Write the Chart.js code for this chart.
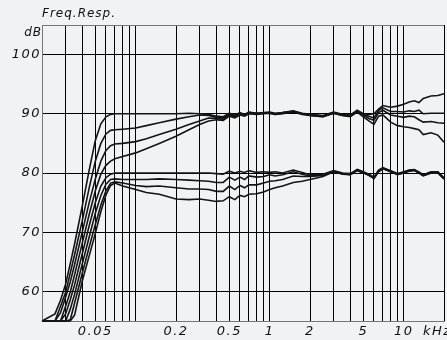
<!DOCTYPE html>
<html>
<head>
<meta charset="utf-8">
<script src="https://cdn.jsdelivr.net/npm/chart.js@4/dist/chart.umd.min.js"></script>
<style>
  html, body { margin: 0; padding: 0; background: #f1f2f4; }
  #wrap { width: 447px; height: 340px; }
</style>
</head>
<body>
<div id="wrap"><canvas id="fr" width="447" height="340"></canvas></div>
<script>
// Frequency points (kHz) shared by all response curves
const freqKHz = [0.02, 0.025, 0.0275, 0.03, 0.0325, 0.035, 0.04, 0.045, 0.05, 0.055, 0.06, 0.065,
  0.07, 0.08, 0.1, 0.12, 0.15, 0.2, 0.25, 0.3, 0.35, 0.4,
  0.45, 0.5, 0.55, 0.6, 0.65, 0.7, 0.8, 0.9, 1, 1.1,
  1.25, 1.5, 1.75, 2, 2.5, 3, 3.5, 4, 4.5, 5,
  5.5, 6, 6.5, 7, 8, 9, 10, 11, 12, 13,
  14, 16, 18, 20];

// Level (dB) of each measurement, upper group around 90 dB
const respA = [55, 56.2, 58.5, 61.2, 64.7, 68, 74.5, 80.5, 85.5, 88.3, 89.5, 89.9,
  90.0, 90.0, 90.0, 90.0, 90.0, 90.0, 90.1, 90.0, 89.9, 89.6,
  89.5, 90.1, 89.8, 90.2, 89.9, 90.3, 90.1, 90.2, 90.3, 90.1,
  90.2, 90.5, 90.1, 89.9, 89.7, 90.3, 89.9, 89.8, 90.6, 90.0,
  89.9, 90.0, 90.8, 91.4, 91.1, 91.3, 91.6, 92.0, 92.2, 91.9,
  92.6, 93.0, 93.1, 93.4];
const respB = [55, 55, 57.5, 59.8, 63.1, 66.2, 72.0, 77.5, 82.0, 85.0, 86.6, 87.2,
  87.3, 87.4, 87.6, 88.0, 88.5, 89.1, 89.5, 89.8, 89.7, 89.4,
  89.3, 90.0, 89.6, 90.1, 89.8, 90.2, 90.1, 90.1, 90.2, 90.0,
  90.2, 90.4, 90.0, 89.8, 89.6, 90.2, 89.8, 89.7, 90.5, 89.9,
  89.6, 89.3, 90.6, 91.0, 90.4, 90.4, 90.3, 90.5, 90.4, 90.6,
  90.0, 90.1, 90.1, 90.1];
const respC = [55, 55, 56.4, 59.0, 61.6, 64.5, 70.1, 75.0, 79.0, 82.0, 83.8, 84.6,
  84.9, 85.0, 85.3, 85.8, 86.5, 87.4, 88.2, 88.8, 89.3, 89.2,
  89.1, 89.8, 89.5, 90.0, 89.7, 90.1, 90.0, 90.1, 90.1, 89.9,
  90.1, 90.3, 90.0, 89.7, 89.5, 90.1, 89.7, 89.6, 90.4, 89.8,
  89.2, 88.9, 90.2, 90.6, 89.8, 89.6, 89.4, 89.6, 89.5, 89.0,
  88.6, 88.7, 88.5, 88.4];
const respD = [55, 55, 55, 57.5, 59.9, 62.8, 68.2, 73.0, 77.0, 79.8, 81.3, 82.0,
  82.4, 82.8, 83.4, 84.1, 85.0, 86.2, 87.3, 88.2, 88.8, 89.0,
  88.9, 89.6, 89.3, 89.8, 89.6, 90.0, 89.9, 90.0, 90.1, 89.9,
  90.0, 90.3, 89.9, 89.7, 89.5, 90.1, 89.7, 89.5, 90.3, 89.5,
  88.8, 88.2, 89.6, 89.8, 88.6, 88.0, 87.8, 87.7, 87.5, 87.3,
  86.5, 86.8, 86.4, 85.2];

// Lower group around 80 dB
const respE = [55, 55, 55, 56.2, 58.6, 61.1, 66.4, 71.1, 75.0, 77.8, 79.2, 79.8,
  80.0, 80.0, 80.0, 80.0, 80.0, 80.0, 80.0, 80.0, 80.0, 79.9,
  79.8, 80.3, 80.0, 80.3, 80.1, 80.4, 80.1, 80.2, 80.1, 80.2,
  80.0, 80.5, 80.1, 79.7, 79.8, 80.4, 80.0, 79.9, 80.6, 80.2,
  79.8, 79.3, 80.5, 80.9, 80.4, 79.9, 80.2, 80.5, 80.6, 80.2,
  79.7, 80.2, 80.2, 79.2];
const respF = [55, 55, 55, 55, 57.0, 59.5, 64.7, 69.2, 73.2, 76.2, 78.1, 78.9,
  79.0, 78.9, 78.9, 78.9, 79.0, 78.9, 78.8, 78.7, 78.6, 78.4,
  78.4, 79.3, 78.8, 79.3, 78.9, 79.5, 79.3, 79.4, 79.7, 79.5,
  79.7, 80.2, 79.8, 79.5, 79.7, 80.3, 79.9, 79.8, 80.5, 80.1,
  79.7, 79.2, 80.4, 80.8, 80.3, 79.8, 80.1, 80.4, 80.5, 80.1,
  79.6, 80.1, 80.1, 79.1];
const respG = [55, 55, 55, 55, 55.2, 58.0, 63.1, 67.5, 71.3, 74.6, 77.0, 78.3,
  78.5, 78.3, 77.9, 77.7, 77.8, 77.5, 77.3, 77.3, 77.2, 76.9,
  76.9, 77.8, 77.2, 77.9, 77.5, 78.0, 78.0, 78.3, 78.6, 78.7,
  78.9, 79.5, 79.4, 79.4, 79.6, 80.2, 79.9, 79.7, 80.5, 80.1,
  79.6, 79.1, 80.3, 80.8, 80.2, 79.8, 80.0, 80.4, 80.5, 80.0,
  79.6, 80.0, 80.1, 79.0];
const respH = [55, 55, 55, 55, 55, 56.0, 61.8, 66.0, 69.8, 73.5, 76.3, 77.9,
  78.3, 77.8, 77.2, 76.7, 76.4, 75.6, 75.5, 75.6, 75.4, 75.2,
  75.3, 76.0, 75.5, 76.2, 76.0, 76.4, 76.5, 76.8, 77.2, 77.5,
  77.8, 78.4, 78.6, 78.9, 79.4, 80.2, 79.8, 79.7, 80.4, 80.0,
  79.6, 79.1, 80.2, 80.7, 80.2, 79.7, 80.0, 80.3, 80.4, 80.0,
  79.5, 80.0, 80.0, 79.0];

// Axis grid and labels
const freqGrid = [0.03, 0.04, 0.05, 0.06, 0.07, 0.08, 0.09, 0.1,
  0.2, 0.3, 0.4, 0.5, 0.6, 0.7, 0.8, 0.9, 1,
  2, 3, 4, 5, 6, 7, 8, 9, 10, 20];
const freqLabels = ['0.05', '0.2', '0.5', '1', '2', '5', '10'];
const levelTicks = [60, 70, 80, 90, 100];
const levelTop = 105;
const levelBottom = 55;

const allResponses = [respA, respB, respC, respD, respE, respF, respG, respH];

const LABEL_FONT = { family: "'DejaVu Sans'", style: 'italic', size: 13, weight: 'normal' };
const FRAME = '#767676';

const textPlugin = {
  id: 'plotterText',
  beforeDraw(chart) {
    const ctx = chart.ctx;
    ctx.save();
    ctx.fillStyle = '#f1f2f4';
    ctx.fillRect(0, 0, chart.width, chart.height);
    ctx.restore();
    ctx.letterSpacing = '1.5px';
  },
  afterDraw(chart) {
    const ctx = chart.ctx;
    const area = chart.chartArea;
    ctx.save();
    ctx.fillStyle = '#111';
    ctx.font = 'italic 12px "DejaVu Sans"';
    ctx.letterSpacing = '1px';
    ctx.textBaseline = 'middle';
    ctx.textAlign = 'left';
    ctx.fillText('Freq.Resp.', area.left, 14);
    ctx.textAlign = 'right';
    ctx.fillText('dB', area.left, 33);
    ctx.font = 'italic 13px "DejaVu Sans"';
    ctx.letterSpacing = '1.5px';
    ctx.textAlign = 'left';
    ctx.textBaseline = 'top';
    ctx.fillText('kHz', area.right - 21, area.bottom + 4);
    ctx.restore();
  }
};

new Chart(document.getElementById('fr'), {
  type: 'line',
  data: {
    datasets: allResponses.map(resp => ({
      data: freqKHz.map((f, i) => ({ x: f, y: resp[i] })),
      borderColor: '#141414',
      borderWidth: 1.6,
      pointRadius: 0,
      tension: 0,
      fill: false,
      clip: 3
    }))
  },
  options: {
    responsive: false,
    animation: false,
    devicePixelRatio: 1,
    layout: { padding: { left: 0, top: 25, right: 2, bottom: 0 } },
    plugins: { legend: { display: false }, tooltip: { enabled: false } },
    scales: {
      x: {
        type: 'logarithmic',
        min: 0.02,
        max: 20,
        afterBuildTicks: s => { s.ticks = freqGrid.map(v => ({ value: v })); },
        afterFit: s => { s.height = 19; },
        ticks: {
          autoSkip: false,
          maxRotation: 0,
          minRotation: 0,
          padding: 3,
          color: '#111',
          font: LABEL_FONT,
          callback: v => {
            const hit = freqLabels.find(l => Math.abs(parseFloat(l) - v) < 1e-9);
            return hit || '';
          }
        },
        grid: { color: '#000', lineWidth: 1, drawTicks: false },
        border: { color: FRAME, width: 1 }
      },
      y: {
        type: 'linear',
        min: levelBottom,
        max: levelTop,
        afterBuildTicks: s => { s.ticks = levelTicks.concat([levelTop]).map(v => ({ value: v })); },
        afterFit: s => { s.width = 42; },
        ticks: {
          padding: 1,
          color: '#111',
          font: LABEL_FONT,
          callback: v => (v === levelTop ? '' : String(v))
        },
        grid: { color: ctx => (ctx.tick && ctx.tick.value === levelTop ? FRAME : '#000'), lineWidth: 1, drawTicks: false },
        border: { color: FRAME, width: 1 }
      }
    }
  },
  plugins: [textPlugin]
});
</script>
</body>
</html>
